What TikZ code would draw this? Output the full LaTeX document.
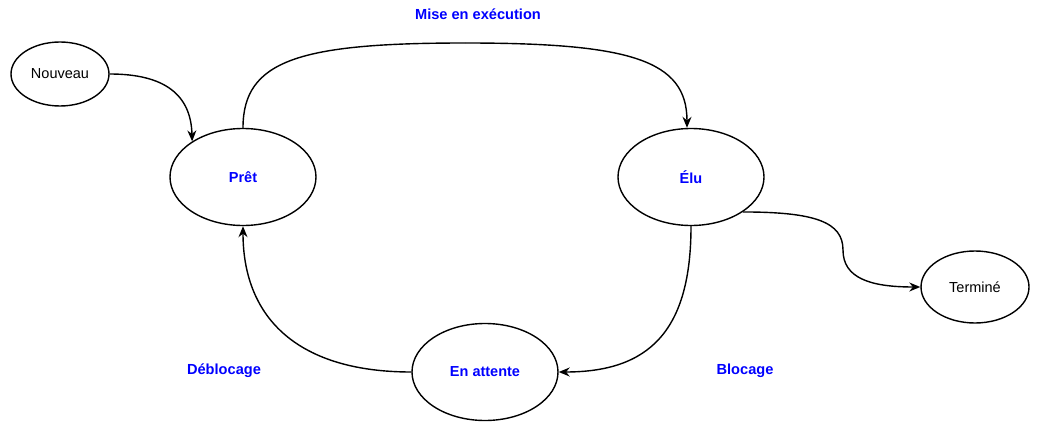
\documentclass[tikz,border=0pt]{standalone}
\usepackage{fontspec}
\setmainfont{Liberation Sans}
\usetikzlibrary{shapes.geometric,arrows.meta}
\definecolor{lblblue}{RGB}{0,0,255}
\tikzset{
  state/.style={draw=black, ellipse, line width=1.4pt, inner sep=0pt, font=\fontsize{14.5}{17}\selectfont},
  big/.style={state, minimum width=146pt, minimum height=97pt, text=lblblue, font=\fontsize{14.5}{17}\selectfont\bfseries},
  small/.style={state, minimum width=98pt, minimum height=64pt},
  edge/.style={line width=1.4pt, -{Stealth[length=11pt,width=9pt]}},
  lbl/.style={text=lblblue, font=\fontsize{14.6}{17}\selectfont\bfseries}
}
\begin{document}
\begin{tikzpicture}[x=1pt,y=-1pt]
\useasboundingbox (0,0) rectangle (1038,425);
\node[small] (nouveau) at (60,74) {Nouveau};
\node[big] (pret) at (243,177) {Prêt};
\node[big] (elu) at (691,177) {Élu};
\node[big] (attente) at (485,372) {En attente};
\node[small, minimum width=108pt, minimum height=72pt] (termine) at (975,287) {Terminé};
\node[lbl] (l1) at (478,14) {Mise en exécution};
\node[lbl] (l2) at (224,371) {Déblocage};
\node[lbl] (l3) at (745,371) {Blocage};
\coordinate (top) at (465,43);
\coordinate (mid) at (843,250);
\draw[edge] (nouveau.east) .. controls (165,74) and (191,95) .. (pret.145);
\draw[line width=1.4pt] (pret.north) .. controls (243,60) and (300,43) .. (top);
\draw[edge] (top) .. controls (630,43) and (687,60) .. ([xshift=-4pt]elu.north);
\draw[edge] (elu.south) .. controls (691,330) and (650,372) .. (attente.east);
\draw[edge] (attente.west) .. controls (300,372) and (243,320) .. (pret.south);
\draw[line width=1.4pt] (elu.-34) .. controls (815,212) and (843,222) .. (mid);
\draw[edge] (mid) .. controls (843,278) and (870,287) .. (termine.west);
\end{tikzpicture}
\end{document}
